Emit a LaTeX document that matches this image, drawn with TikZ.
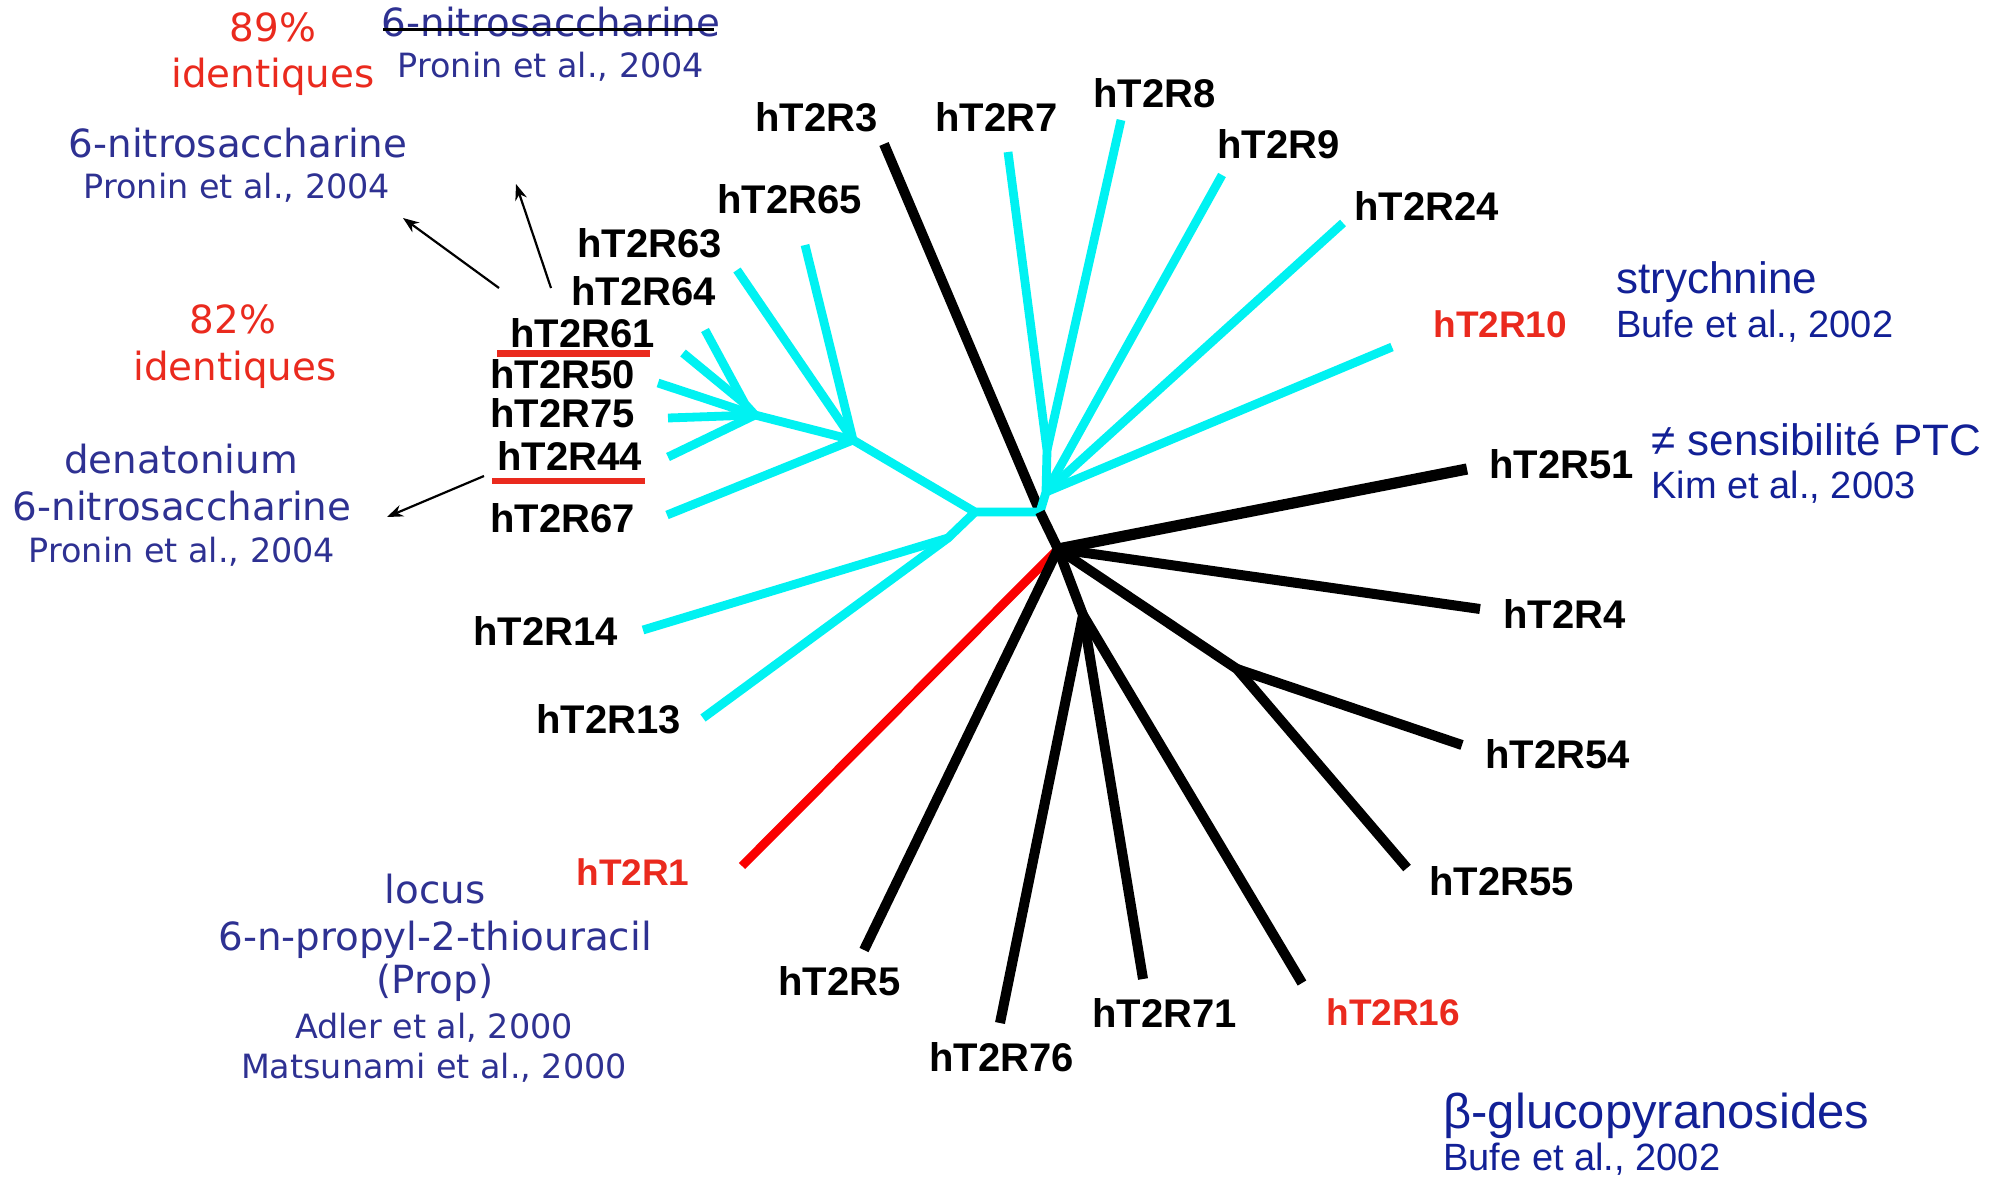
\documentclass[tikz,border=0pt]{standalone}
\usepackage{fontspec}
\setmainfont{DejaVu Sans}
\newfontfamily\arialf{Liberation Sans}
\usetikzlibrary{arrows.meta}
\definecolor{treecyan}{RGB}{0,242,242}
\definecolor{treered}{RGB}{250,0,0}
\definecolor{labred}{RGB}{234,42,30}
\definecolor{leftblue}{RGB}{46,49,146}
\definecolor{rightblue}{RGB}{18,32,150}
\begin{document}
\begin{tikzpicture}[x=0.5pt,y=-0.5pt,
 cyanbr/.style={draw=treecyan,line width=4.4pt,line join=round},
 blackbr/.style={draw=black,line width=5pt,line join=round},
 redbr/.style={draw=treered,line width=4.4pt},
 leaf/.style={anchor=base west,inner sep=0pt,font={\arialf\bfseries\fontsize{20}{22}\selectfont}},
 redleaf/.style={leaf,text=labred,font={\arialf\bfseries\fontsize{18.5}{22}\selectfont}},
 big/.style={anchor=base,inner sep=0pt,text=leftblue,font={\fontsize{19.4}{23}\selectfont}},
 small/.style={anchor=base,inner sep=0pt,text=leftblue,font={\fontsize{16.7}{20}\selectfont}},
 pct/.style={big,text=labred},
 rbig/.style={anchor=base west,inner sep=0pt,text=rightblue,font={\arialf\fontsize{22}{26}\selectfont}},
 rsmall/.style={rbig,font={\arialf\fontsize{19}{22}\selectfont}},
 rbeta/.style={rbig,font={\arialf\fontsize{24.5}{28}\selectfont}},
 pointer/.style={draw=black,line width=1.1pt,-{Stealth[length=8pt,width=6pt]}},
 uline/.style={fill=labred}]
\useasboundingbox (0,0) rectangle (2000,1177);

% internal nodes
\coordinate (H) at (1058,549);
\coordinate (n5) at (1040,512);
\coordinate (n6) at (1046,492);
\coordinate (n7) at (1047,450);
\coordinate (n4) at (975,512);
\coordinate (nC) at (948,538);
\coordinate (n3) at (853,440);
\coordinate (n2) at (755,415);
\coordinate (n1) at (745,404);
\coordinate (nS) at (1237,669);
\coordinate (nB) at (1083,615);
% leaf ends
\coordinate (e3) at (884,144);
\coordinate (e7) at (1008,152);
\coordinate (e8) at (1121,120);
\coordinate (e9) at (1222,175);
\coordinate (e24) at (1343,223);
\coordinate (e10) at (1392,347);
\coordinate (e51) at (1467,469);
\coordinate (e4) at (1480,609);
\coordinate (e54) at (1462,745);
\coordinate (e55) at (1407,868);
\coordinate (e16) at (1302,983);
\coordinate (e71) at (1143,979);
\coordinate (e76) at (1000,1023);
\coordinate (e5) at (864,950);
\coordinate (e1) at (742,866);
\coordinate (e13) at (703,718);
\coordinate (e14) at (643,630);
\coordinate (e67) at (667,515);
\coordinate (e44) at (668,457);
\coordinate (e75) at (668,418);
\coordinate (e50) at (658,383);
\coordinate (e61) at (683,353);
\coordinate (e64) at (705,330);
\coordinate (e63) at (737,270);
\coordinate (e65) at (805,245);

% branches
\draw[redbr] (H) -- (e1);
\draw[blackbr] (e3) -- (n5);
\draw[cyanbr] (n5) -- (n6) -- (n7) -- (e7);
\draw[cyanbr] (n7) -- (e8);
\draw[cyanbr] (n6) -- (e9);
\draw[cyanbr] (n6) -- (e24);
\draw[cyanbr] (n6) -- (e10);
\draw[cyanbr] (n5) -- (n4) -- (n3);
\draw[cyanbr] (n4) -- (nC) -- (e14);
\draw[cyanbr] (nC) -- (e13);
\draw[cyanbr] (n3) -- (e65);
\draw[cyanbr] (n3) -- (e63);
\draw[cyanbr] (n3) -- (e67);
\draw[cyanbr] (n3) -- (n2) -- (e50);
\draw[cyanbr] (n2) -- (e75);
\draw[cyanbr] (n2) -- (e44);
\draw[cyanbr] (n2) -- (n1) -- (e64);
\draw[cyanbr] (n1) -- (e61);
\draw[blackbr] (n5) -- (H);
\draw[blackbr,line width=5.6pt] (H) -- (e51);
\draw[blackbr] (H) -- (e4);
\draw[blackbr] (H) -- (nS) -- (e55);
\draw[blackbr] (nS) -- (e54);
\draw[blackbr] (H) -- (nB) -- (e76);
\draw[blackbr] (nB) -- (e71);
\draw[blackbr] (nB) -- (e16);
\draw[blackbr] (H) -- (e5);

% leaf labels
\node[leaf] (l3) at (755,132) {hT2R3};
\node[leaf] (l7) at (935,132) {hT2R7};
\node[leaf] (l8) at (1093,108) {hT2R8};
\node[leaf] (l9) at (1217,158) {hT2R9};
\node[leaf] (l24) at (1354,220) {hT2R24};
\node[redleaf] (l10) at (1433,337) {hT2R10};
\node[leaf] (l51) at (1489,478) {hT2R51};
\node[leaf] (l4) at (1503,628) {hT2R4};
\node[leaf] (l54) at (1485,768) {hT2R54};
\node[leaf] (l55) at (1429,895) {hT2R55};
\node[redleaf] (l16) at (1326,1025) {hT2R16};
\node[leaf] (l71) at (1092,1027) {hT2R71};
\node[leaf] (l76) at (929,1071) {hT2R76};
\node[leaf] (l5) at (778,995) {hT2R5};
\node[redleaf] (l1) at (576,885) {hT2R1};
\node[leaf] (l13) at (536,733) {hT2R13};
\node[leaf] (l14) at (473,645) {hT2R14};
\node[leaf] (l67) at (490,532) {hT2R67};
\node[leaf] (l44) at (497,470) {hT2R44};
\node[leaf] (l75) at (490,427) {hT2R75};
\node[leaf] (l50) at (490,388) {hT2R50};
\node[leaf] (l61) at (510,347) {hT2R61};
\node[leaf] (l64) at (571,305) {hT2R64};
\node[leaf] (l63) at (577,257) {hT2R63};
\node[leaf] (l65) at (717,213) {hT2R65};

% underlines
\fill[uline] (497,350) rectangle (650,357);
\fill[uline] (492,478) rectangle (645,484);

% left annotations
\node[pct] (p89) at (273,42) {89\%};
\node[pct] (id89) at (273,88) {identiques};
\node[big] (nsA) at (551,37) {6-nitrosaccharine};
\draw[line width=1.5pt] (383,30) -- (714,30);
\node[small] (prA) at (551,78) {Pronin et al., 2004};
\node[big] (nsB) at (238,157) {6-nitrosaccharine};
\node[small] (prB) at (237,198) {Pronin et al., 2004};
\node[pct] (p82) at (233,333) {82\%};
\node[pct] (id82) at (235,380) {identiques};
\node[big] (den) at (181,473) {denatonium};
\node[big] (nsC) at (182,520) {6-nitrosaccharine};
\node[small] (prC) at (182,562) {Pronin et al., 2004};
\node[big] (loc) at (435,903) {locus};
\node[big] (prop) at (435,950) {6-n-propyl-2-thiouracil};
\node[big] (propab) at (435,993) {(Prop)};
\node[small] (adl) at (434,1038) {Adler et al, 2000};
\node[small] (mat) at (434,1078) {Matsunami et al., 2000};

% right annotations
\node[rbig] (stry) at (1616,293) {strychnine};
\node[rsmall] (bufA) at (1616,337) {Bufe et al., 2002};
\node[rbig] (ptc) at (1651,455) {≠ sensibilité PTC};
\node[rsmall] (kim) at (1651,498) {Kim et al., 2003};
\node[rbeta] (beta) at (1443,1128) {β-glucopyranosides};
\node[rsmall] (bufB) at (1443,1170) {Bufe et al., 2002};

% pointers
\coordinate (a1s) at (499,288);
\coordinate (a1e) at (403,218);
\coordinate (a2s) at (551,288);
\coordinate (a2e) at (516,184);
\coordinate (a3s) at (484,476);
\coordinate (a3e) at (387,517);
\draw[pointer] (a1s) -- (a1e);
\draw[pointer] (a2s) -- (a2e);
\draw[pointer] (a3s) -- (a3e);
\end{tikzpicture}
\end{document}
